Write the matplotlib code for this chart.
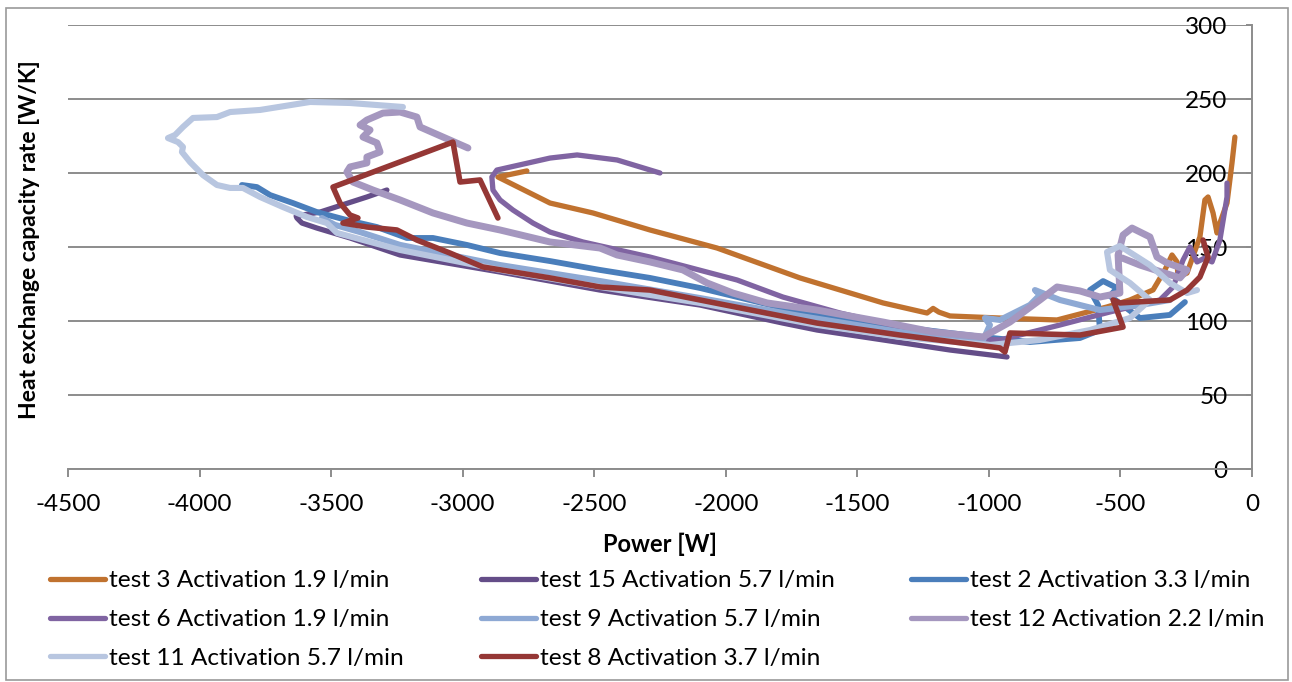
import matplotlib
matplotlib.use("Agg")
import matplotlib.pyplot as plt
from matplotlib.patches import Rectangle

plt.rcParams['font.family'] = ['Lato', 'DejaVu Sans']

# ---------------- data ----------------
labels = ["test 3 Activation 1.9 l/min", "test 15 Activation 5.7 l/min",
          "test 2 Activation 3.3 l/min", "test 6 Activation 1.9 l/min",
          "test 9 Activation 5.7 l/min", "test 12 Activation 2.2 l/min",
          "test 11 Activation 5.7 l/min", "test 8 Activation 3.7 l/min"]

t3_x = [-2756, -2866, -2668, -2505, -2288, -2033, -1718, -1402, -1235, -1212, -1190, -1148, -958,
        -741, -551, -464, -376, -331, -304, -285, -281, -247, -198, -179, -167, -148, -133, -122,
        -95, -76, -65]
t3_y = [201.4, 197.3, 179.7, 173.0, 161.5, 149.3, 129.1, 112.2, 105.4, 108.5, 106.0, 103.4, 102.0,
        100.7, 109.5, 114.2, 121.0, 134.5, 144.6, 139.9, 129.7, 132.4, 156.8, 181.8, 183.8, 173.0,
        159.5, 166.2, 179.7, 206.8, 224.3]

t15_x = [-3288, -3364, -3542, -3633, -3630, -3611, -3554, -3428, -3238, -2858, -2478, -2098,
         -1783, -1653, -1402, -1148, -931]
t15_y = [188.5, 183.8, 173.6, 170.9, 169.6, 166.2, 162.8, 156.1, 144.6, 133.1, 120.9, 110.8,
         98.6, 93.9, 87.2, 80.4, 75.7]

t2_x = [-3839, -3782, -3732, -3645, -3554, -3440, -3326, -3212, -3113, -2984, -2858, -2668,
        -2478, -2288, -2098, -1783, -1402, -1022, -844, -654, -578, -585, -616, -566, -513, -540,
        -426, -312, -255]
t2_y = [191.9, 190.5, 185.1, 179.7, 173.6, 168.2, 163.5, 156.1, 156.1, 151.4, 145.9, 140.5,
        134.5, 129.1, 122.3, 108.8, 97.3, 89.2, 85.8, 88.5, 93.9, 110.8, 120.9, 127.0, 122.3, 116.9,
        102.0, 104.1, 112.8]

t6_x = [-2250, -2413, -2565, -2668, -2870, -2889, -2885, -2858, -2809, -2733, -2668, -2543,
        -2288, -1957, -1783, -1566, -1402, -1148, -958, -730, -540, -350, -300, -262, -236, -209,
        -179, -152, -122, -95, -95]
t6_y = [200.0, 208.8, 212.2, 210.1, 202.0, 197.3, 188.5, 181.8, 175.0, 166.2, 160.1, 153.4,
        143.2, 127.7, 116.2, 105.4, 98.6, 89.2, 87.2, 97.3, 106.1, 114.2, 123.0, 141.2, 150.0, 139.9,
        142.6, 139.9, 154.7, 183.8, 193.2]

t9_x = [-3535, -3485, -3390, -3238, -3048, -2858, -2668, -2478, -2098, -1718, -1338, -1022,
        -996, -1015, -958, -844, -806, -825, -730, -578, -426, -312]
t9_y = [169.6, 164.9, 160.1, 151.4, 144.6, 137.8, 132.4, 127.0, 115.5, 103.4, 92.6, 87.2,
        97.3, 102.0, 100.7, 110.8, 117.6, 120.9, 114.2, 107.4, 110.8, 114.2]

t12_x = [-2980, -3162, -3174, -3238, -3303, -3364, -3390, -3352, -3379, -3326, -3314, -3364,
         -3364, -3428, -3440, -3417, -3341, -3238, -3113, -2984, -2858, -2668, -2478, -2413, -2288,
         -2163, -2071, -1973, -1843, -1653, -1402, -1212, -1022, -920, -806, -741, -654, -578, -502,
         -509, -490, -456, -388, -361, -323, -247, -274, -426, -494]
t12_y = [216.9, 231.1, 237.8, 241.2, 240.5, 235.8, 232.4, 229.1, 224.3, 220.3, 214.2, 210.8,
         206.8, 204.1, 200.7, 193.9, 188.5, 181.8, 173.0, 166.2, 161.5, 153.4, 149.3, 144.6, 139.9,
         134.5, 125.7, 118.9, 112.2, 107.4, 99.3, 92.6, 89.2, 99.3, 114.2, 123.0, 120.3, 116.2, 118.9,
         144.6, 158.1, 162.8, 156.8, 143.2, 139.2, 134.5, 129.1, 137.8, 142.6]

t11_x = [-3227, -3428, -3580, -3770, -3884, -3934, -4025, -4063, -4093, -4120, -4082, -4063,
         -4067, -4036, -3987, -3934, -3884, -3835, -3770, -3683, -3592, -3516, -3478, -3238, -2858,
         -2478, -2098, -1653, -1338, -996, -806, -616, -464, -388, -464, -540, -551, -502, -388,
         -312, -247, -209]
t11_y = [244.6, 247.3, 248.0, 242.6, 241.2, 237.8, 237.2, 231.1, 225.7, 223.6, 220.9, 217.6,
         214.2, 207.4, 198.6, 191.9, 189.9, 189.9, 183.8, 177.0, 170.3, 166.2, 159.5, 148.0, 134.5,
         123.0, 112.2, 97.3, 89.2, 83.8, 87.2, 93.9, 102.0, 114.2, 125.7, 134.5, 146.6, 150.7, 137.8,
         125.7, 118.9, 120.9]

t8_x = [-2866, -2934, -3010, -3037, -3493, -3466, -3428, -3398, -3455, -3364, -3250, -3174,
        -3048, -2923, -2668, -2478, -2288, -2098, -1653, -1338, -958, -939, -920, -654, -490, -528,
        -502, -312, -247, -198, -167, -186]
t8_y = [169.6, 195.3, 193.9, 220.9, 190.5, 179.7, 171.6, 169.6, 166.2, 163.5, 161.5, 154.7,
        145.9, 136.5, 129.1, 123.0, 120.9, 114.2, 98.6, 90.5, 81.8, 79.1, 91.9, 90.5, 95.9, 114.2,
        112.2, 114.2, 120.9, 129.7, 143.2, 154.7]

series_x = [t3_x, t15_x, t2_x, t6_x, t9_x, t12_x, t11_x, t8_x]
series_y = [t3_y, t15_y, t2_y, t6_y, t9_y, t12_y, t11_y, t8_y]
colors = ["#C0722F", "#644D88", "#4A7EBB", "#8064A2", "#8EA9D4", "#A597BF", "#B8C6E0", "#953735"]
widths = [3.8, 3.8, 4.2, 3.8, 4.4, 5.0, 4.4, 4.0]

x_ticks = [-4500, -4000, -3500, -3000, -2500, -2000, -1500, -1000, -500, 0]
y_ticks = [0, 50, 100, 150, 200, 250, 300]

# ---------------- figure ----------------
W, H = 1292, 682
fig = plt.figure(figsize=(W / 100, H / 100), dpi=100)
fig.patch.set_facecolor("white")
ax = fig.add_axes([68 / W, 1 - 469 / H, (1252 - 68) / W, (469 - 25) / H])

grid_c = "#8C8C8C"
handles = []
for xs, ys, c, w, lab in zip(series_x, series_y, colors, widths, labels):
    ln, = ax.plot(xs, ys, color=c, lw=w, solid_joinstyle="round", solid_capstyle="round",
                  label=lab, zorder=3)
    handles.append(ln)

ax.set_xlim(-4500, 0)
ax.set_ylim(0, 300)
ax.set_xticks(x_ticks)
ax.set_xticklabels([str(v) for v in x_ticks])
ax.set_yticks(y_ticks)
ax.set_yticklabels([str(v) for v in y_ticks])

ax.yaxis.grid(True, color=grid_c, lw=1.4, zorder=1)
ax.set_axisbelow(True)
for s in ["top", "left"]:
    ax.spines[s].set_visible(False)
for s in ["bottom", "right"]:
    ax.spines[s].set_color(grid_c)
    ax.spines[s].set_linewidth(1.4)

ax.tick_params(axis="x", direction="out", length=6, width=1.4, color=grid_c,
               labelsize=17.5, pad=12, labelcolor="black")
ax.yaxis.set_ticks_position("right")
ax.tick_params(axis="y", direction="in", length=4, width=1.4, color=grid_c,
               labelsize=17.5, pad=-17.5, labelright=True, labelleft=False, labelcolor="black")
for t in ax.yaxis.get_major_ticks():
    t.label2.set_horizontalalignment("right")
    t.label2.set_zorder(5)

ax.set_xlabel("Power [W]", fontsize=17, fontweight="bold")
ax.xaxis.set_label_coords(0.5, (469 - 533) / 444)
ax.yaxis.set_label_position("left")
ax.set_ylabel("Heat exchange capacity rate [W/K]", fontsize=16.5, fontweight="bold")
ax.yaxis.set_label_coords((40 - 68) / 1184, (469 - 240) / 444)

# legend, row-major order in three columns
order = [0, 3, 6, 1, 4, 7, 2, 5]
leg = fig.legend([handles[i] for i in order], [labels[i] for i in order], ncol=3,
                 loc="upper left", bbox_to_anchor=(50 / W, 1 - 570 / H), frameon=False,
                 fontsize=17.6, handlelength=2.25, handletextpad=0.16, columnspacing=3.15,
                 labelspacing=0.73, borderpad=0, borderaxespad=0)
for l in leg.get_lines():
    l.set_linewidth(3.8)

fig.add_artist(Rectangle((6 / W, 2 / H), 1282 / W, 672 / H, transform=fig.transFigure,
                         fill=False, edgecolor="#9A9A9A", lw=1.2))

fig.savefig("out.png", dpi=100)
